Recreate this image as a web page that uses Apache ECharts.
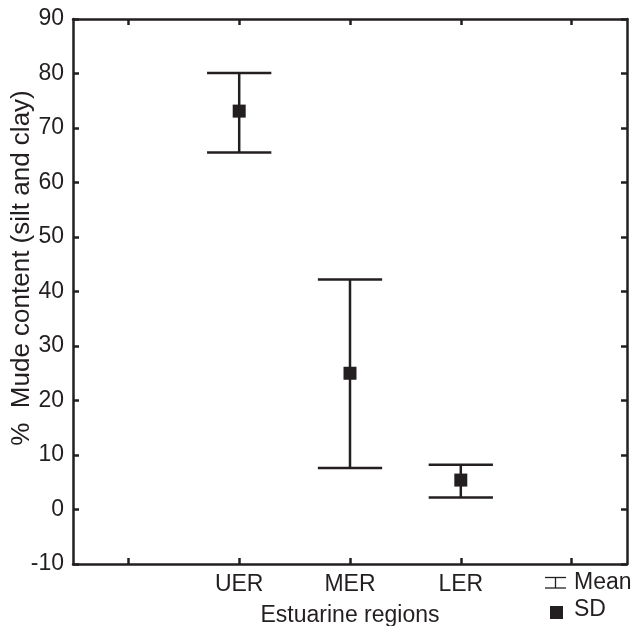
<!DOCTYPE html>
<html>
<head>
<meta charset="utf-8">
<script src="https://cdn.jsdelivr.net/npm/echarts@6/dist/echarts.min.js"></script>
<style>html,body{margin:0;padding:0;background:#fff}#c{width:631px;height:626px}</style>
</head>
<body>
<div id="c"></div>
<script>
var categories = ['', 'UER', 'MER', 'LER', ''];
var regions = ['UER', 'MER', 'LER'];
var meanValues = [73.1, 25.0, 5.4];
var upperValues = [80.1, 42.2, 8.2];
var lowerValues = [65.5, 7.6, 2.2];
var yTicks = { min: -10, max: 90, interval: 10 };

var ink = '#231f20';
var font = 'Liberation Sans, Arial, Helvetica, sans-serif';
var fs = 23;

var errData = regions.map(function (r, i) { return [r, lowerValues[i], upperValues[i]]; });
var meanData = regions.map(function (r, i) { return [r, meanValues[i]]; });

var chart = echarts.init(document.getElementById('c'));
function axisBase() {
  return {
    axisLine: { show: true, onZero: false, lineStyle: { color: ink, width: 2.5 } },
    axisTick: { show: true, inside: true, length: 6, lineStyle: { color: ink, width: 2.5 } },
    splitLine: { show: false },
    nameMoveOverlap: false
  };
}
function catAxis(pos, showLabel) {
  var a = axisBase();
  a.type = 'category';
  a.data = categories;
  a.position = pos;
  a.axisTick.alignWithLabel = true;
  a.axisTick.interval = 0;
  a.axisLabel = showLabel ? { color: ink, fontSize: fs, fontFamily: font, margin: 9, interval: 0 } : { show: false };
  if (showLabel) {
    a.name = 'Estuarine regions';
    a.nameLocation = 'middle';
    a.nameGap = 40;
    a.nameTextStyle = { color: ink, fontSize: fs, fontFamily: font };
  }
  return a;
}
function valAxis(pos, showLabel) {
  var a = axisBase();
  a.type = 'value';
  a.min = yTicks.min; a.max = yTicks.max; a.interval = yTicks.interval;
  a.position = pos;
  a.axisLabel = showLabel ? { color: ink, fontSize: fs, fontFamily: font, margin: 9 } : { show: false };
  if (showLabel) {
    a.name = '%  Mude content (silt and clay)';
    a.nameLocation = 'middle';
    a.nameGap = 38;
    a.nameTextStyle = { color: ink, fontSize: 26, fontFamily: font, padding: [0, 0, 0, 47] };
  }
  return a;
}
chart.setOption({
  animation: false,
  backgroundColor: '#fff',
  grid: { left: 73, right: 4, top: 19, bottom: 62, containLabel: false, outerBoundsMode: 'none' },
  xAxis: [catAxis('bottom', true), catAxis('top', false)],
  yAxis: [valAxis('left', true), valAxis('right', false)],
  series: [
    {
      name: 'Mean', type: 'custom', xAxisIndex: 0, yAxisIndex: 0,
      data: errData,
      encode: { x: 0, y: [1, 2] },
      renderItem: function (params, api) {
        var x = api.value(0);
        var pLo = api.coord([x, api.value(1)]);
        var pHi = api.coord([x, api.value(2)]);
        var half = api.size([1, 0])[0] * 0.29;
        var st = { stroke: ink, lineWidth: 2.5 };
        return {
          type: 'group',
          children: [
            { type: 'line', shape: { x1: pHi[0], y1: pHi[1], x2: pLo[0], y2: pLo[1] }, style: st },
            { type: 'line', shape: { x1: pHi[0] - half, y1: pHi[1], x2: pHi[0] + half, y2: pHi[1] }, style: st },
            { type: 'line', shape: { x1: pLo[0] - half, y1: pLo[1], x2: pLo[0] + half, y2: pLo[1] }, style: st }
          ]
        };
      },
      z: 2
    },
    {
      name: 'SD', type: 'scatter', xAxisIndex: 0, yAxisIndex: 0,
      data: meanData, symbol: 'rect', symbolSize: 13,
      itemStyle: { color: ink, opacity: 1 }, z: 3
    }
  ],
  graphic: [
    { type: 'line', shape: { x1: 545, y1: 577.5, x2: 566, y2: 577.5 }, style: { stroke: ink, lineWidth: 1.3 } },
    { type: 'line', shape: { x1: 545, y1: 588, x2: 566, y2: 588 }, style: { stroke: ink, lineWidth: 1.3 } },
    { type: 'line', shape: { x1: 555.5, y1: 577.5, x2: 555.5, y2: 588 }, style: { stroke: ink, lineWidth: 1.3 } },
    { type: 'text', left: 574, top: 571, style: { text: 'Mean', fill: ink, font: fs + 'px ' + font } },
    { type: 'rect', shape: { x: 550, y: 606, width: 13, height: 13 }, style: { fill: ink } },
    { type: 'text', left: 574, top: 598, style: { text: 'SD', fill: ink, font: fs + 'px ' + font } }
  ]
});
</script>
</body>
</html>
